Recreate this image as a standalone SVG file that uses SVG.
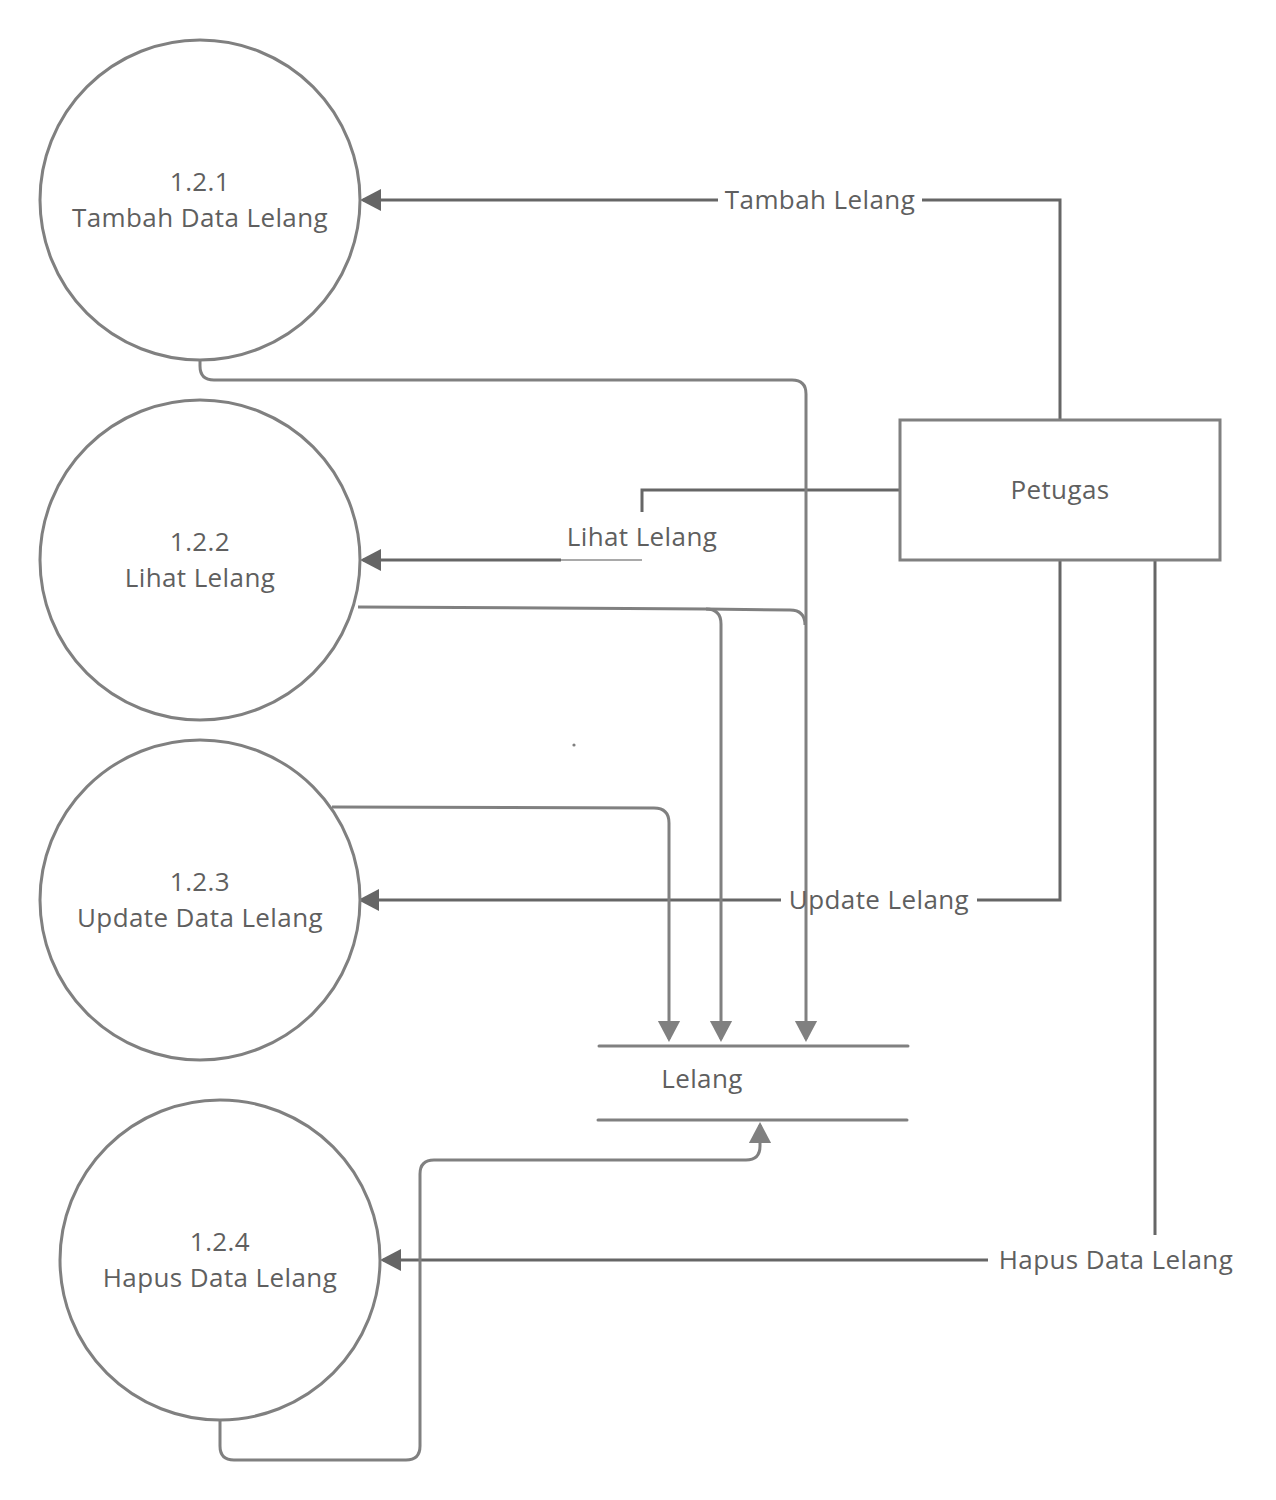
<svg xmlns="http://www.w3.org/2000/svg" width="1276" height="1500" viewBox="0 0 1276 1500">
  <defs>
    <style>
      .proc { fill: #ffffff; stroke: #808080; stroke-width: 3; }
      .ent { fill: #ffffff; stroke: #808080; stroke-width: 3; }
      .store { stroke: #808080; stroke-width: 3; stroke-linecap: round; fill: none; }
      .txt { font-family: "Open Sans", "Noto Sans", sans-serif; font-size: 26px; letter-spacing: 0.4px; fill: #5f5f5f; text-anchor: middle; }
      .flow { fill: none; stroke: #666666; stroke-width: 3; }
      .data { fill: none; stroke: #808080; stroke-width: 3; }
      .thin { fill: none; stroke: #8c8c8c; stroke-width: 1.5; }
    </style>
    <!-- tip sits one unit past the path end so the stroke stays hidden inside the head -->
    <marker id="arrDark" markerWidth="8" markerHeight="8" refX="6" refY="4" orient="auto" markerUnits="strokeWidth">
      <path d="M0,0.3 L7,4 L0,7.7 Z" fill="#666666"/>
    </marker>
    <marker id="arrGray" markerWidth="8" markerHeight="8" refX="6" refY="4" orient="auto" markerUnits="strokeWidth">
      <path d="M0,0.3 L7,4 L0,7.7 Z" fill="#808080"/>
    </marker>
  </defs>

  <rect width="1276" height="1500" fill="#ffffff"/>

  <!-- connectors -->
  <g id="connectors">
    <!-- Petugas -> 1.2.1 -->
    <path class="flow" d="M1060,420 L1060,200 L922,200"/>
    <path class="flow" d="M718,200 L363,200" marker-end="url(#arrDark)"/>
    <!-- Petugas -> 1.2.2 -->
    <path class="flow" d="M900,490 L642,490 L642,512"/>
    <path class="thin" d="M560,560 L642,560"/>
    <path class="flow" d="M561,560 L363,560" marker-end="url(#arrDark)"/>
    <!-- Petugas -> 1.2.3 -->
    <path class="flow" d="M1060,560 L1060,900 L977,900"/>
    <path class="flow" d="M781,900 L361,900" marker-end="url(#arrDark)"/>
    <!-- Petugas -> 1.2.4 -->
    <path class="flow" d="M1155,560 L1155,1235"/>
    <path class="flow" d="M988,1260 L383,1260" marker-end="url(#arrDark)"/>

    <!-- processes -> Lelang store -->
    <path class="data" d="M200,360 L200,366 Q200,380 214,380 L792,380 Q806,380 806,394 L806,1039" marker-end="url(#arrGray)"/>
    <path class="data" d="M358,607 L706,609 Q721,609 721,624 L721,1039" marker-end="url(#arrGray)"/>
    <path class="data" d="M706,609 L790,610 Q805,610 805,625"/>
    <path class="data" d="M332,807 L654,808 Q669,808 669,823 L669,1039" marker-end="url(#arrGray)"/>
    <path class="data" d="M220,1420 L220,1446 Q220,1460 234,1460 L406,1460 Q420,1460 420,1446 L420,1174 Q420,1160 434,1160 L746,1160 Q760,1160 760,1146 L760,1125" marker-end="url(#arrGray)"/>
  </g>

  <!-- connector labels -->
  <g id="labels">
    <text class="txt" x="820" y="209">Tambah Lelang</text>
    <text class="txt" x="642" y="546">Lihat Lelang</text>
    <text class="txt" x="879" y="909">Update Lelang</text>
    <text class="txt" x="1116" y="1269">Hapus Data Lelang</text>
  </g>

  <!-- processes -->
  <g id="p121">
    <circle class="proc" cx="200" cy="200" r="160"/>
    <text class="txt" x="200" y="191">1.2.1</text>
    <text class="txt" x="200" y="227">Tambah Data Lelang</text>
  </g>
  <g id="p122">
    <circle class="proc" cx="200" cy="560" r="160"/>
    <text class="txt" x="200" y="551">1.2.2</text>
    <text class="txt" x="200" y="587">Lihat Lelang</text>
  </g>
  <g id="p123">
    <circle class="proc" cx="200" cy="900" r="160"/>
    <text class="txt" x="200" y="891">1.2.3</text>
    <text class="txt" x="200" y="927">Update Data Lelang</text>
  </g>
  <g id="p124">
    <circle class="proc" cx="220" cy="1260" r="160"/>
    <text class="txt" x="220" y="1251">1.2.4</text>
    <text class="txt" x="220" y="1287">Hapus Data Lelang</text>
  </g>

  <!-- external entity -->
  <g id="petugas">
    <rect class="ent" x="900" y="420" width="320" height="140"/>
    <text class="txt" x="1060" y="499">Petugas</text>
  </g>

  <!-- data store -->
  <g id="lelang">
    <line class="store" x1="599" y1="1046" x2="908" y2="1046"/>
    <line class="store" x1="598" y1="1120" x2="907" y2="1120"/>
    <text class="txt" x="702" y="1088">Lelang</text>
  </g>

  <circle cx="574" cy="745" r="1.6" fill="#808080"/>
</svg>
